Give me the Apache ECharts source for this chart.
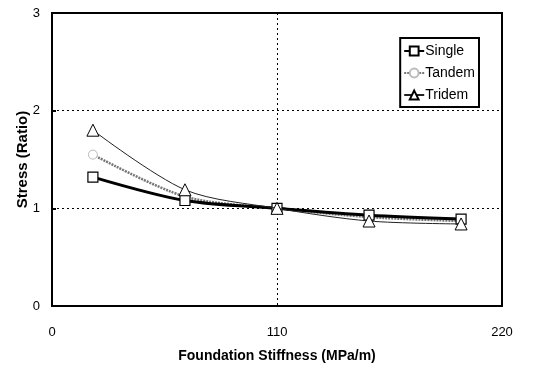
<!DOCTYPE html>
<html><head><meta charset="utf-8">
<script src="https://cdn.jsdelivr.net/npm/echarts@6/dist/echarts.min.js"></script>
<style>html,body{margin:0;padding:0;background:#fff}#c{width:549px;height:368px}</style>
</head><body><div id="c"></div>
<script>
const stiffness = [20, 65, 110, 155, 200];
const single = [1.32, 1.08, 1.0, 0.93, 0.89];
const tandem = [1.55, 1.12, 1.0, 0.91, 0.87];
const tridem = [1.80, 1.19, 1.0, 0.87, 0.84];
const xTicks = [0, 110, 220];
const yTicks = [0, 1, 2, 3];

const pairs = arr => stiffness.map((x, i) => [x, arr[i]]);
const font = 'Liberation Sans, Arial, sans-serif';
const chart = echarts.init(document.getElementById('c'));
chart.setOption({
  animation: false,
  grid: {left: 52, right: 47, top: 13, bottom: 62, show: true, borderColor: '#000', borderWidth: 2, backgroundColor: '#fff'},
  legend: {
    right: 70, top: 38, orient: 'vertical', itemGap: 8, itemWidth: 20, itemHeight: 11,
    backgroundColor: '#fff', borderColor: '#000', borderWidth: 2, padding: [6, 4, 5, 3],
    textStyle: {fontFamily: font, fontSize: 14, color: '#000', padding: [0, 0, 0, -4]},
    data: ['Single', 'Tandem', 'Tridem']
  },
  xAxis: {
    type: 'value', min: xTicks[0], max: xTicks[xTicks.length - 1], interval: 110,
    name: 'Foundation Stiffness (MPa/m)', nameLocation: 'middle', nameGap: 43,
    nameTextStyle: {fontFamily: font, fontSize: 14, fontWeight: 'bold', color: '#000'},
    axisLine: {show: false}, axisTick: {show: false},
    axisLabel: {fontFamily: font, fontSize: 13, color: '#000', margin: 20},
    splitLine: {show: true, lineStyle: {color: '#000', type: [2, 3], width: 1}}
  },
  yAxis: {
    type: 'value', min: yTicks[0], max: yTicks[yTicks.length - 1], interval: 1,
    name: 'Stress (Ratio)', nameLocation: 'middle', nameGap: 22, nameMoveOverlap: false,
    nameTextStyle: {fontFamily: font, fontSize: 15, fontWeight: 'bold', color: '#000'},
    axisLine: {show: false}, axisTick: {show: true, inside: true, length: 4, lineStyle: {color: '#000', width: 2}},
    axisLabel: {fontFamily: font, fontSize: 13, color: '#000', margin: 12},
    splitLine: {show: true, lineStyle: {color: '#000', type: [2, 3], width: 1}}
  },
  series: [
    {name: 'Single', type: 'line', data: pairs(single), smooth: 0.3, symbol: 'rect', symbolSize: 10,
     lineStyle: {color: '#000', width: 3}, itemStyle: {color: '#fff', borderColor: '#000', borderWidth: 1.2}, z: 3},
    {name: 'Tandem', type: 'line', data: pairs(tandem), smooth: 0.3, symbol: 'circle', symbolSize: 9,
     lineStyle: {color: '#777', width: 2.5, type: [2, 1]}, itemStyle: {color: '#fff', borderColor: '#bbb', borderWidth: 1}, z: 2},
    {name: 'Tridem', type: 'line', data: pairs(tridem), smooth: 0.3, symbol: 'triangle', symbolSize: 12,
     lineStyle: {color: '#222', width: 1}, itemStyle: {color: '#fff', borderColor: '#000', borderWidth: 1}, z: 4}
  ]
});
</script></body></html>
